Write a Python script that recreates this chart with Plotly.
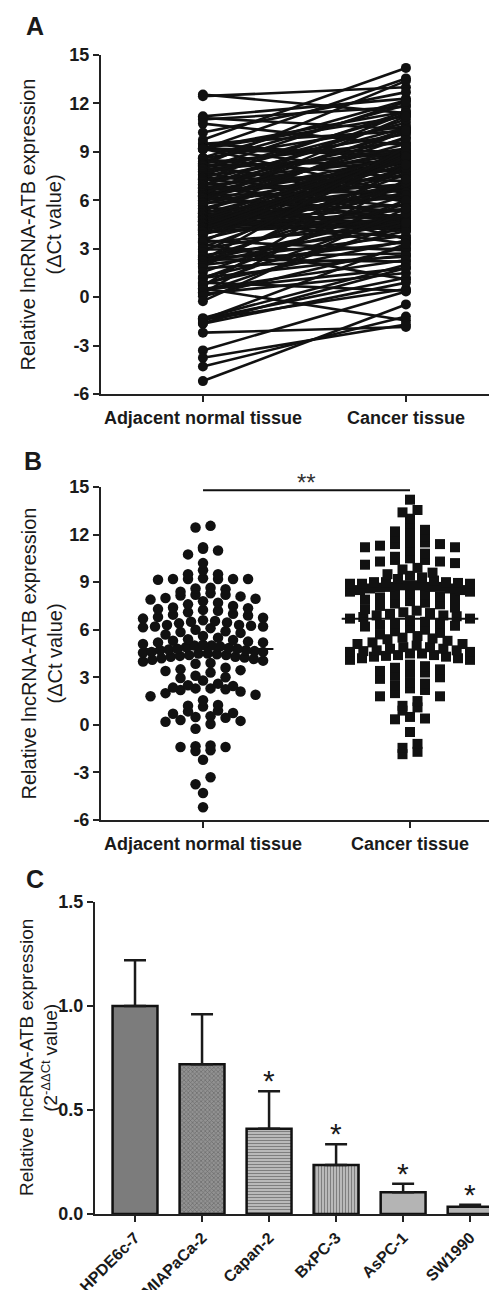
import numpy as np
import plotly.graph_objects as go

# ---------------- DATA ----------------
# Panel A/B: paired ΔCt values (normal sorted high->low, cancer paired by index)
normal = [
    12.55, 12.45, 11.2, 11.1, 11.0, 10.75, 10.2,
    9.75, 9.5, 9.5, 9.25, 9.2, 9.2, 9.2, 9.2, 9.2, 9.15,
    8.65, 8.6, 8.55, 8.4, 8.3, 8.2, 8.2, 8.15, 8.1, 8.0, 7.95, 7.9, 7.8, 7.7,
    7.6, 7.5, 7.4, 7.35, 7.3, 7.25, 7.2, 7.1, 7.0, 6.95, 6.9, 6.8, 6.75, 6.7, 6.6, 6.55, 6.5,
    6.45, 6.4, 6.3, 6.3, 6.25, 6.2, 6.2, 6.15, 6.1, 6.0, 5.9, 5.85, 5.8, 5.7, 5.6, 5.5,
    5.4, 5.35, 5.3, 5.25, 5.2, 5.2, 5.1, 5.05, 5.0, 5.0, 4.95, 4.9, 4.85, 4.8, 4.8, 4.75,
    4.7, 4.7, 4.65, 4.6, 4.6, 4.55, 4.5, 4.5, 4.45, 4.4, 4.4, 4.35, 4.3, 4.3, 4.25, 4.2,
    4.15, 4.1, 4.05, 4.0, 3.9, 3.85,
    3.6, 3.5, 3.45, 3.4, 3.3, 3.1, 3.0, 2.95, 2.8, 2.6, 2.5, 2.45, 2.35, 2.3, 2.3, 2.25,
    2.2, 2.1, 2.0, 1.9, 1.8, 1.55,
    1.25, 1.2, 1.15, 0.9, 0.85, 0.75, 0.7, 0.55, 0.5, 0.45, 0.3, 0.25, 0.2, 0.05, -0.25,
    -1.3, -1.35, -1.4, -1.4, -1.6, -1.65, -2.2, -3.3, -3.75, -4.3, -5.2,
]
cancer = [
    11.4, 13.0, 12.3, 10.4, 11.8, 9.4, 12.7,
    14.2, 10.3, 8.6, 11.5, 7.7, 13.55, 9.0, 6.4, 11.2, 8.8,
    12.2, 10.6, 7.4, 11.9, 9.6, 5.9, 13.4, 8.4, 10.1, 6.7, 12.1, 8.95, 4.8, 11.3,
    10.8, 9.2, 7.2, 11.5, 6.2, 8.5, 10.5, 4.5, 9.8, 7.9, 11.0, 5.6, 8.9, 6.9, 10.2, 3.6, 9.1,
    7.5, 11.4, 6.6, 8.3, 4.9, 10.4, 8.7, 5.3, 9.5, 7.0, 11.2, 6.1, 8.1, 9.9, 4.3, 8.65,
    8.9, 4.5, 10.3, 6.8, 4.1, 8.4, 5.7, 3.3, 7.8, 4.9, 9.0, 6.25, 4.3, 8.8, 5.45, 3.7,
    7.65, 4.65, 8.6, 6.4, 4.2, 8.25, 5.1, 4.35, 7.05, 8.9, 4.8, 6.7, 8.0, 4.4, 5.4, 8.7,
    6.85, 4.6, 8.5, 4.7, 6.9, 8.8,
    6.5, 2.9, 9.0, 4.4, 1.1, 7.6, 5.1, 3.0, 8.7, 4.2, 2.7, 6.3, 2.2, 9.3, 5.0, 3.8,
    7.1, 4.7, 3.4, 8.0, 2.5, 5.8,
    4.1, 2.6, 6.0, 0.4, 3.5, 5.2, 8.2, -1.45, 2.3, 1.8, 4.6, 7.3, 1.5, 3.1, 5.5,
    2.0, 1.2, 0.5, 3.3, 1.8, 0.9, -1.85, 0.35, -1.7, -1.2, -0.45,
]
group_labels = ["Adjacent normal tissue", "Cancer tissue"]
y_ticks_ab = [-6, -3, 0, 3, 6, 9, 12, 15]
y_ticktext_ab = ["-6", "-3", "0", "3", "6", "9", "12", "15"]
sig_label = "**"
sig_level = 14.8

# Panel C: cell lines
cell_lines = ["HPDE6c-7", "MIAPaCa-2", "Capan-2", "BxPC-3", "AsPC-1", "SW1990"]
rel_expr = [1.0, 0.72, 0.41, 0.235, 0.105, 0.035]
rel_err = [0.22, 0.24, 0.18, 0.10, 0.04, 0.01]
significant = [False, False, True, True, True, True]
y_ticks_c = [0.0, 0.5, 1.0, 1.5]
y_ticktext_c = ["0.0", "0.5", "1.0", "1.5"]

# ---------------- STYLE ----------------
W, H = 497, 1290
FONT = "Liberation Sans, Arial, Helvetica, sans-serif"
INK = "#1a1a1a"
AX = "#222222"


def px(xp):
    return xp / W


def py(yp):
    return 1 - yp / H


fig = go.Figure()

# ---------- Panel A: paired lines ----------
xa, ya = [], []
for n, c in zip(normal, cancer):
    xa += [0, 1, None]
    ya += [n, c, None]
fig.add_trace(go.Scatter(
    x=xa, y=ya, mode="lines+markers", xaxis="x", yaxis="y",
    line=dict(color="#111111", width=2.6),
    marker=dict(symbol="circle", size=10, color="#111111"),
    showlegend=False, hoverinfo="skip"))


# ---------- Panel B: scatter dot plot ----------
def swarm(vals, center, binh=0.55, dx=0.0725, maxhalf=0.29):
    bins = {}
    for v in sorted(vals):
        k = int(np.floor((v + 100) / binh))
        bins.setdefault(k, []).append(v)
    xs, ys = [], []
    for k, vs in bins.items():
        n = len(vs)
        step = dx if (n - 1) * dx / 2 <= maxhalf else 2 * maxhalf / (n - 1)
        offs = [(i - (n - 1) / 2) * step for i in range(n)]
        offs = sorted(offs, key=lambda o: abs(o), reverse=True)
        for v, o in zip(vs, offs):
            xs.append(center + o)
            ys.append(v)
    return xs, ys


bx0, by0 = swarm(normal, 0.0)
bx1, by1 = swarm(cancer, 1.0)
fig.add_trace(go.Scatter(x=bx0, y=by0, mode="markers", xaxis="x2", yaxis="y2",
                         marker=dict(symbol="circle", size=10.5, color="#111111"),
                         showlegend=False, hoverinfo="skip"))
fig.add_trace(go.Scatter(x=bx1, y=by1, mode="markers", xaxis="x2", yaxis="y2",
                         marker=dict(symbol="square", size=10, color="#111111"),
                         showlegend=False, hoverinfo="skip"))
m0, m1 = float(np.mean(normal)), float(np.mean(cancer))
for cx, m, hw in [(0.03, m0, 0.31), (1.0, m1, 0.33)]:
    fig.add_shape(type="line", xref="x2", yref="y2", x0=cx - hw, x1=cx + hw, y0=m, y1=m,
                  line=dict(color="#111111", width=2))
fig.add_shape(type="line", xref="x2", yref="y2", x0=0, x1=1, y0=sig_level, y1=sig_level,
              line=dict(color="#111111", width=2))
fig.add_annotation(x=0.5, y=sig_level, xref="x2", yref="y2", text=sig_label, showarrow=False,
                   yanchor="bottom", yshift=-8, font=dict(family=FONT, size=24, color="#333333"))

# ---------- Panel C: bars ----------
fig.add_trace(go.Bar(
    x=list(range(len(cell_lines))), y=rel_expr, xaxis="x3", yaxis="y3", width=0.67,
    error_y=dict(type="data", symmetric=False, array=rel_err,
                 arrayminus=[0] * len(rel_err), color=INK, thickness=2.5, width=11),
    marker=dict(
        color=["#7c7c7c", "#929292", "#b9b9b9", "#b9b9b9", "#b4b4b4", "#b4b4b4"],
        line=dict(color="#111111", width=2.5),
        pattern=dict(shape=["", "x", "-", "|", "", ""],
                     fgcolor=["#7c7c7c", "#555555", "#8e8e8e", "#8e8e8e", "#b4b4b4", "#b4b4b4"],
                     size=[6, 3, 3, 3, 6, 6], solidity=[0.3, 0.4, 0.35, 0.35, 0.3, 0.3],
                     fillmode="overlay")),
    showlegend=False, hoverinfo="skip"))
for i, (v, e, s) in enumerate(zip(rel_expr, rel_err, significant)):
    if s:
        fig.add_annotation(x=i, y=v + e, xref="x3", yref="y3", text="*", showarrow=False,
                           yanchor="bottom", yshift=-8,
                           font=dict(family=FONT, size=30, color=INK))

# ---------- Axes ----------
def axis(size, **kw):
    d = dict(showline=True, linecolor=AX, linewidth=2, ticks="outside", ticklen=6,
             tickwidth=2, tickcolor=AX, showgrid=False, zeroline=False, automargin=False,
             tickfont=dict(family=FONT, size=size, color=INK, weight="bold"))
    d.update(kw)
    return d


fig.update_layout(
    width=W, height=H, autosize=False, margin=dict(l=0, r=0, t=0, b=0, pad=0),
    paper_bgcolor="white", plot_bgcolor="white",
    xaxis=axis(18, domain=[px(93), 1.0], range=[-0.502, 1.488], anchor="y",
               tickvals=[0, 1], ticktext=group_labels),
    yaxis=axis(18, domain=[py(386), py(47)], range=[-6, 15], anchor="x",
               tickvals=y_ticks_ab, ticktext=y_ticktext_ab),
    xaxis2=axis(18, domain=[px(93), 1.0], range=[-0.493, 1.459], anchor="y2",
                tickvals=[0, 1], ticktext=group_labels),
    yaxis2=axis(18, domain=[py(812), py(479)], range=[-6, 15], anchor="x2",
                tickvals=y_ticks_ab, ticktext=y_ticktext_ab),
    xaxis3=axis(16, domain=[px(87), 1.0], range=[-0.597, 5.52], anchor="y3",
                tickvals=list(range(len(cell_lines))), ticktext=cell_lines, tickangle=-45),
    yaxis3=axis(18, domain=[py(1206), py(894)], range=[0, 1.5], anchor="x3",
                tickvals=y_ticks_c, ticktext=y_ticktext_c),
)

# ---------- Titles & panel letters ----------
line1 = "Relative lncRNA-ATB expression"
line2_ab = "(ΔCt value)"
for yc, fs, x1, x2 in [((47 + 386) / 2, 20, 20, 46), ((479 + 812) / 2, 20, 20, 46)]:
    for xc, t in [(x1, line1), (x2, line2_ab)]:
        fig.add_annotation(x=px(xc), y=py(yc), xref="paper", yref="paper", text=t,
                           textangle=-90, showarrow=False, xanchor="center", yanchor="middle",
                           font=dict(family=FONT, size=fs, color=INK))

# Panel C title: line 1, then line 2 built from three pieces (superscript part smaller, raised)
yc_c = (894 + 1206) / 2
fig.add_annotation(x=px(18), y=py(yc_c), xref="paper", yref="paper", text=line1,
                   textangle=-90, showarrow=False, xanchor="center", yanchor="middle",
                   font=dict(family=FONT, size=19, color=INK))
pieces = [("(2", 19, 0.889 * 19, 0), ("-ΔΔCt", 13, 2.669 * 13, -6), ("value)", 19, 2.723 * 19, 0)]
gap = 0.278 * 19
total = sum(p[2] for p in pieces) + gap
start = yc_c + total / 2  # bottom end of the rotated text (text runs upward)
for j, (t, fs, wpx, dx) in enumerate(pieces):
    if j == 2:
        start -= gap
    center = start - wpx / 2
    fig.add_annotation(x=px(43 + dx), y=py(center), xref="paper", yref="paper", text=t,
                       textangle=-90, showarrow=False, xanchor="center", yanchor="middle",
                       font=dict(family=FONT, size=fs, color=INK))
    start -= wpx

for letter, xc, yc in [("A", 27, 18), ("B", 25, 453), ("C", 27, 871)]:
    fig.add_annotation(x=px(xc), y=py(yc), xref="paper", yref="paper", text=letter,
                       showarrow=False, xanchor="center", yanchor="middle",
                       font=dict(family=FONT, size=25, color=INK, weight="bold"))

fig.write_html("out.html")
